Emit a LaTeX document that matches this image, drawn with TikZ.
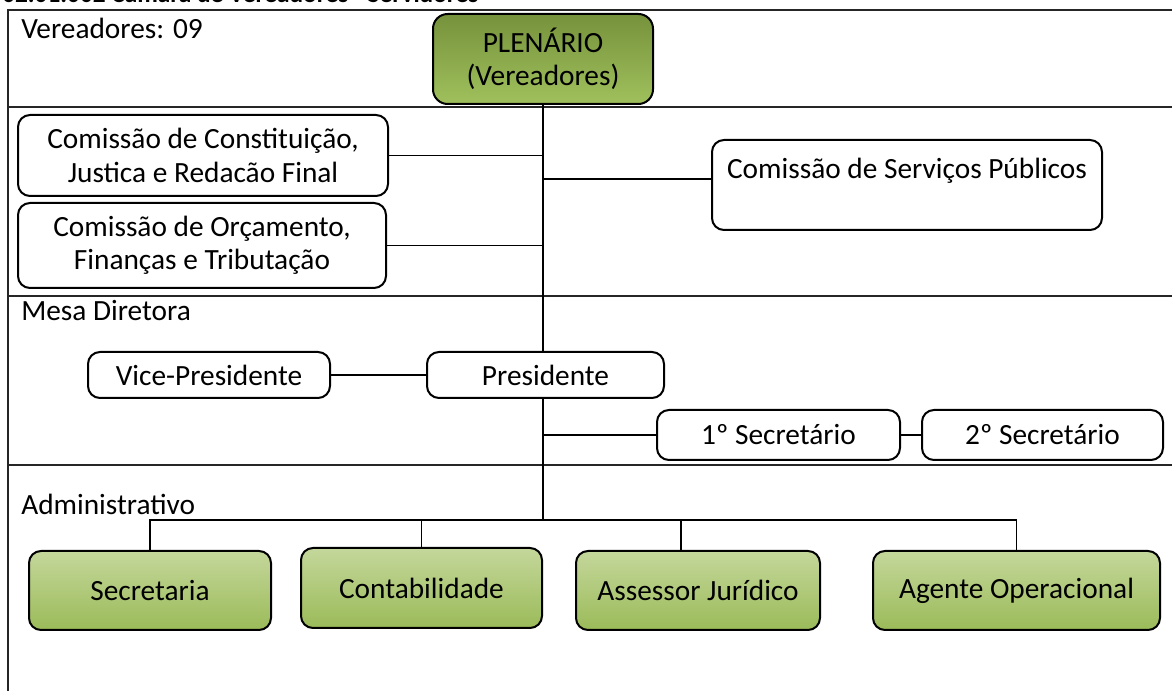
\documentclass[tikz,border=0pt]{standalone}
\usepackage{fontspec}
\setmainfont{Carlito}
\usetikzlibrary{calc}
\definecolor{glight}{RGB}{196,215,155}
\definecolor{gdark}{RGB}{155,187,89}
\definecolor{pdark}{RGB}{118,146,60}
\definecolor{plight}{RGB}{160,192,92}
\begin{document}
\begin{tikzpicture}[x=0.75pt,y=-0.75pt,
  every node/.style={font=\fontsize{22}{25}\selectfont},
  sz/.style 2 args={minimum width=#1*0.75pt, minimum height=#2*0.75pt},
  wbox/.style={draw=black, line width=1.5pt, rounded corners=9pt, fill=white, align=center, inner sep=0pt},
  gbox/.style={draw=black, line width=1.5pt, rounded corners=9pt, top color=glight, bottom color=gdark, align=center, inner sep=0pt},
  pbox/.style={draw=black, line width=1.5pt, rounded corners=11pt, top color=pdark, bottom color=plight, align=center, inner sep=0pt},
  sep/.style={line width=1.7pt, draw=black!85},
  conn/.style={line width=1.4pt},
  lbl/.style={anchor=base west, inner sep=0pt}]
\useasboundingbox (0,0) rectangle (1172,691);

% header (cut off at top)
\node[anchor=base west, inner sep=0pt, font=\bfseries\fontsize{19}{20}\selectfont] (hdr) at (2,2.5) {02.01.002 Câmara de Vereadores - Servidores};

% frame and separators
\draw[sep] (8,691) -- (8,10) -- (1172,10);
\draw[sep] (8,107) -- (1172,107);
\draw[sep] (8,296) -- (1172,296);
\draw[sep] (8,465) -- (1172,465);

% section labels
\node[lbl] (lv) at (21,39) {Vereadores: 09};
\node[lbl] (lm) at (21,321) {Mesa Diretora};
\node[lbl] (la) at (21,515) {Administrativo};

% boxes
\node[pbox, sz={220}{90}] (plen) at (543,59) {PLENÁRIO\\(Vereadores)};
\node[wbox, sz={370}{81}] (cct) at (203,155.5) {Comissão de Constituição,\\Justica e Redacão Final};
\node[wbox, sz={368}{85}] (cof) at (202,245.5) {Comissão de Orçamento,\\Finanças e Tributação};
\node[wbox, sz={390}{90}] (csp) at (907,185) {Comissão de Serviços Públicos\\ };
\node[wbox, sz={242}{46}] (vp) at (209,375) {Vice-Presidente};
\node[wbox, sz={237}{46}] (pres) at (545.5,375) {Presidente};
\node[wbox, sz={243}{50}] (s1) at (778.5,435) {1º Secretário};
\node[wbox, sz={241}{50}] (s2) at (1042.5,435) {2º Secretário};
\node[gbox, sz={242}{79}] (sec) at (150,590.5) {Secretaria};
\node[gbox, sz={241}{80}] (cont) at (421.5,588) {Contabilidade};
\node[gbox, sz={244}{79}] (ass) at (698,590.5) {Assessor Jurídico};
\node[gbox, sz={287}{79}] (age) at (1016.5,590.5) {Agente Operacional};

% connectors
\coordinate (bj) at (543,520);
\coordinate (ad) at (681,520);
\coordinate (cspw) at ($(csp.west)+(0,-6)$);
\draw[conn] (plen.south) -- (plen.south |- pres.north);
\draw[conn] (plen.south |- pres.south) -- (bj);
\draw[conn] (cct.east) -- (cct.east -| plen.south);
\draw[conn] (cof.east) -- (cof.east -| plen.south);
\draw[conn] (cspw) -- (cspw -| plen.south);
\draw[conn] (vp) -- (pres);
\draw[conn] (s1.west) -- (s1.west -| plen.south);
\draw[conn] (s1) -- (s2);
\draw[conn] (sec.north) -- (sec.north |- bj) -- (age.north |- bj) -- (age.north);
\draw[conn] (cont.north) -- (cont.north |- bj);
\draw[conn] (ad |- ass.north) -- (ad);
\end{tikzpicture}
\end{document}
